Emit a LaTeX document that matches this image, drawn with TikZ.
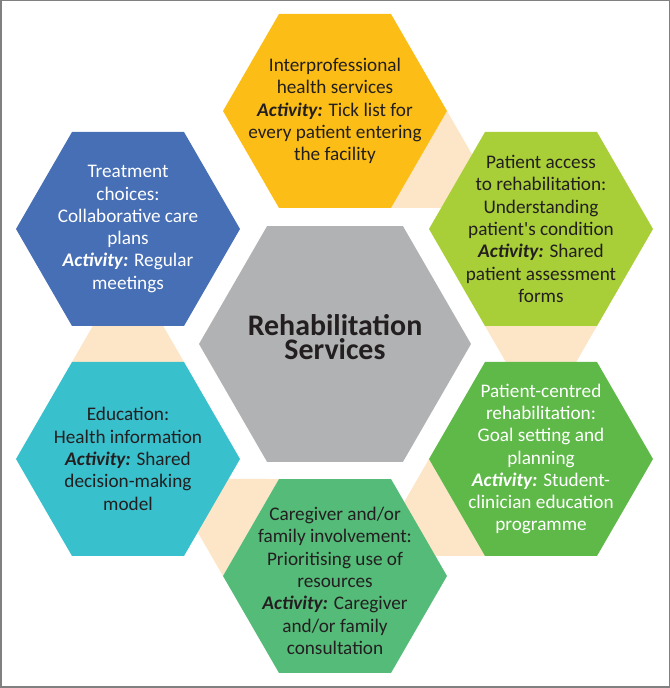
\documentclass[tikz,border=0pt]{standalone}
\usepackage{fontspec}
\setmainfont{Carlito}
\usepackage{tikz}
\usetikzlibrary{calc,shapes.geometric}
\definecolor{hexyellow}{RGB}{252,190,22}
\definecolor{hexlime}{RGB}{168,206,56}
\definecolor{hexblue}{RGB}{71,111,181}
\definecolor{hexgray}{RGB}{177,178,180}
\definecolor{hexcyan}{RGB}{57,192,205}
\definecolor{hexgreen}{RGB}{94,185,72}
\definecolor{hexmint}{RGB}{84,187,120}
\definecolor{peach}{RGB}{253,230,200}
\definecolor{ink}{RGB}{35,31,32}
\definecolor{framegray}{RGB}{128,128,128}
\newcommand{\actword}{\textbf{\textit{Activity:}}}
\tikzset{
    myhex/.style={regular polygon,regular polygon sides=6,inner sep=0pt,minimum size=224bp,draw=none},
    mycore/.style={myhex,minimum size=272bp,fill=hexgray},
    mypatch/.style={fill=peach},
    mytext/.style={align=center,text=ink,inner sep=0pt,font=\fontsize{19.3}{22.4}\selectfont},
    mywhite/.style={mytext,text=white},
    mytitle/.style={align=center,text=ink,inner sep=0pt,font=\fontsize{30}{24}\selectfont\bfseries}
}

\begin{document}
\begin{tikzpicture}[x=1bp,y=1bp]
  \useasboundingbox (0,0) rectangle (670,688);
  \draw[framegray,line width=1.5bp] (0.75,0.75) rectangle (669.25,687.25);
  \coordinate (C) at (335,344);
  \coordinate (P1) at ($(C)+(0,233)$);
  \coordinate (P2) at ($(C)+(206,115)$);
  \coordinate (P3) at ($(C)+(206,-115)$);
  \coordinate (P4) at ($(C)+(0,-232)$);
  \coordinate (P5) at ($(C)+(-207,-115)$);
  \coordinate (P6) at ($(C)+(-207,115)$);
  % peach wedges under the ring
  \foreach \P/\a in {P1/-30,P2/-90,P3/-150,P4/150,P5/90}{
    \fill[mypatch] ($(\P)+(\a+30:112bp)$) -- ($(\P)+(\a:194bp)$) -- ($(\P)+(\a-30:112bp)$) -- cycle;}
  \node[mycore,label={[mytitle,yshift=7bp]center:{Rehabilitation\\Services}}] (rehab) at (C) {};
  \node[myhex,fill=hexyellow,label={[mytext]center:{Interprofessional\\health services\\\actword{} Tick list for\\every patient entering\\the facility}}] (interprof) at (P1) {};
  \node[myhex,fill=hexlime,label={[mytext]center:{Patient access\\to rehabilitation:\\Understanding\\patient\textquotesingle s condition\\\actword{} Shared\\patient assessment\\forms}}] (access) at (P2) {};
  \node[myhex,fill=hexgreen,label={[mywhite]center:{Patient-centred\\rehabilitation:\\Goal setting and\\planning\\\actword{} Student-\\clinician education\\programme}}] (centred) at (P3) {};
  \node[myhex,fill=hexmint,label={[mytext,yshift=-5bp]center:{Caregiver and/or\\family involvement:\\Prioritising use of\\resources\\\actword{} Caregiver\\and/or family\\consultation}}] (caregiver) at (P4) {};
  \node[myhex,fill=hexcyan,label={[mytext]center:{Education:\\Health information\\\actword{} Shared\\decision-making\\model}}] (education) at (P5) {};
  \node[myhex,fill=hexblue,label={[mywhite]center:{Treatment\\choices:\\Collaborative care\\plans\\\actword{} Regular\\meetings}}] (treatment) at (P6) {};
\end{tikzpicture}
\end{document}
